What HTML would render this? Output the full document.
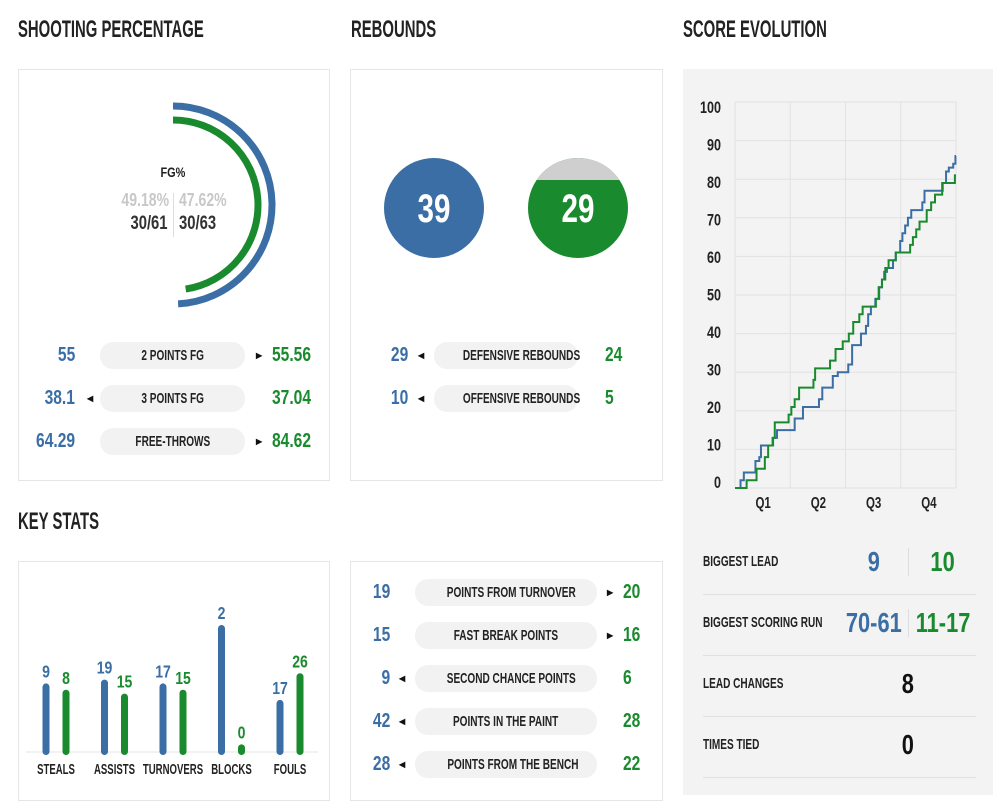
<!DOCTYPE html>
<html><head><meta charset="utf-8">
<style>
*{box-sizing:border-box;margin:0;padding:0}
body{width:993px;height:795px;background:#fff;position:relative;overflow:hidden;font-family:"Liberation Sans",Arial,sans-serif;font-weight:bold;color:#222}
.abs{position:absolute;white-space:nowrap}
.c{display:inline-block;transform:scaleX(0.78)}
.cp{display:inline-block;transform:scaleX(0.67)}
.cl{display:inline-block;transform:scaleX(0.78);transform-origin:left}
.cs{display:inline-block;transform:scaleX(0.67);transform-origin:left}
.ct{display:inline-block;transform:scaleX(0.62);transform-origin:left}
.cr{display:inline-block;transform:scaleX(0.78);transform-origin:right}
.title{position:absolute;font-size:24px;color:#222;white-space:nowrap}
.panel{position:absolute;border:1px solid #e6e6e6;background:#fff}
.pill{position:absolute;background:#f2f2f2;border-radius:13px;height:27px;font-size:15px;line-height:27px;text-align:center;color:#222;white-space:nowrap}
.num{position:absolute;font-size:20px;line-height:27px;white-space:nowrap}
.b{color:#3a6ea5}.g{color:#1a8a2e}
.arr{position:absolute;font-size:8px;line-height:27px;color:#111}
</style></head><body>
<div class="title" style="left:18px;top:16px"><span class="ct">SHOOTING PERCENTAGE</span></div>
<div class="title" style="left:351px;top:16px"><span class="ct">REBOUNDS</span></div>
<div class="title" style="left:683px;top:16px"><span class="ct">SCORE EVOLUTION</span></div>
<div class="title" style="left:18px;top:508px"><span class="ct">KEY STATS</span></div>

<div class="panel" style="left:18px;top:69px;width:312px;height:412px"></div>
<div class="panel" style="left:350px;top:69px;width:313px;height:412px"></div>
<div class="panel" style="left:18px;top:561px;width:312px;height:240px"></div>
<div class="panel" style="left:350px;top:561px;width:313px;height:240px"></div>
<div class="abs" style="left:683px;top:69px;width:310px;height:726px;background:#f3f3f3"></div>

<svg class="abs" style="left:0;top:0" width="993" height="795" id="arcs"></svg>
<div class="abs" style="left:143px;top:164px;width:60px;text-align:center;font-size:14px"><span class="c">FG%</span></div>
<div class="abs" style="left:100px;top:190px;width:69px;text-align:right;font-size:18px;color:#c8c8c8"><span class="cr">49.18%</span></div>
<div class="abs" style="left:179px;top:190px;font-size:18px;color:#c8c8c8"><span class="cl">47.62%</span></div>
<div class="abs" style="left:100px;top:213px;width:68px;text-align:right;font-size:19px;color:#333"><span class="cr">30/61</span></div>
<div class="abs" style="left:179px;top:213px;font-size:19px;color:#333"><span class="cl">30/63</span></div>
<div class="abs" style="left:173px;top:193px;width:1px;height:44px;background:#ddd"></div>

<div id="rows"></div>

<svg class="abs" style="left:0;top:0" width="993" height="795" id="reb">
<circle cx="434" cy="208" r="50" fill="#3a6ea5"/>
<clipPath id="cc"><circle cx="578" cy="208" r="50"/></clipPath>
<rect x="528" y="158" width="100" height="100" fill="#1a8a2e" clip-path="url(#cc)"/>
<rect x="528" y="158" width="100" height="22" fill="#cfcfcf" clip-path="url(#cc)"/>
<text transform="translate(434,222) scale(0.74,1)" text-anchor="middle" font-size="40" fill="#fff" font-family="Liberation Sans,sans-serif" font-weight="bold">39</text>
<text transform="translate(578,222) scale(0.74,1)" text-anchor="middle" font-size="40" fill="#fff" font-family="Liberation Sans,sans-serif" font-weight="bold">29</text>
</svg>

<svg class="abs" style="left:0;top:0" width="993" height="795" id="keys"></svg>
<svg class="abs" style="left:0;top:0" width="993" height="795" id="score"></svg>

<div id="sstats"></div>

<script>
// ---- shooting arcs ----
const fgPct=[49.18,47.62];
const NS="http://www.w3.org/2000/svg";
function mk(p,tag,attrs){const e=document.createElementNS(NS,tag);for(const k in attrs)e.setAttribute(k,attrs[k]);p.appendChild(e);return e;}
function txt(p,x,y,str,size,col,anchor,sx){const t=mk(p,'text',{transform:`translate(${x},${y}) scale(${sx||0.78},1)`,'text-anchor':anchor||'middle','font-size':size,fill:col,'font-weight':'bold','font-family':'Liberation Sans,sans-serif'});t.textContent=str;return t;}
(function(){
 const s=document.getElementById('arcs');
 const cx=173,cy=205,radii=[99,85],cols=['#3a6ea5','#1a8a2e'];
 fgPct.forEach((p,i)=>{
  const a=p/100*2*Math.PI,r=radii[i];
  const x2=cx+r*Math.sin(a),y2=cy-r*Math.cos(a);
  const el=mk(s,'path',{d:`M${cx} ${cy-r} A${r} ${r} 0 0 1 ${x2} ${y2}`,fill:'none',stroke:cols[i],'stroke-width':7});
  
  
 });
})();

// ---- comparison rows ----
const rowLabels=["2 POINTS FG","3 POINTS FG","FREE-THROWS","DEFENSIVE REBOUNDS","OFFENSIVE REBOUNDS","POINTS FROM TURNOVER","FAST BREAK POINTS","SECOND CHANCE POINTS","POINTS IN THE PAINT","POINTS FROM THE BENCH"];
const rowHome=["55","38.1","64.29","29","10","19","15","9","42","28"];
const rowAway=["55.56","37.04","84.62","24","5","20","16","6","28","22"];
const rowArrow=["r","l","r","l","l","r","r","l","l","l"];
(function(){
 const layouts=[];
 [342,385,428].forEach(y=>layouts.push({y,px:100,pw:145,hx:75,ax:272,al:87,ar:256}));
 [342,385].forEach(y=>layouts.push({y,px:434,pw:144,hx:408,ax:605,al:418,ar:590}));
 [579,622,665,708,751].forEach(y=>layouts.push({y,px:415,pw:182,hx:390,ax:623,al:399,ar:607}));
 const c=document.getElementById('rows');let h='';
 rowLabels.forEach((l,i)=>{const L=layouts[i];
  h+=`<div class="pill" style="left:${L.px}px;top:${L.y}px;width:${L.pw}px"><span class="cp">${l}</span></div>`;
  h+=`<div class="num b" style="left:${L.hx-80}px;top:${L.y}px;width:80px;text-align:right"><span class="cr">${rowHome[i]}</span></div>`;
  h+=`<div class="num g" style="left:${L.ax}px;top:${L.y}px"><span class="cl">${rowAway[i]}</span></div>`;
  h+= rowArrow[i]=='l'?`<div class="arr" style="left:${L.al}px;top:${L.y}px">◀</div>`:`<div class="arr" style="left:${L.ar}px;top:${L.y}px">▶</div>`;
 });
 c.innerHTML=h;
})();

// ---- key stats ----
const keyCats=["STEALS","ASSISTS","TURNOVERS","BLOCKS","FOULS"];
const keyHome=[9,19,17,2,17];
const keyAway=[8,15,15,0,26];
const keyHomeHeight=[54,57,54,100,41]; // relative bar height (% of max)
const keyAwayHeight=[49,46,49,6,62];
(function(){
 const s=document.getElementById('keys');
 const base=752,maxH=127,x0=46,step=58.5;
 mk(s,'line',{x1:26,y1:base,x2:318,y2:base,stroke:'#e4e4e4'});
 keyCats.forEach((c,i)=>{
  const xb=x0+i*step,xg=xb+20;
  [[xb,keyHomeHeight[i],keyHome[i],'#3a6ea5','home'],[xg,keyAwayHeight[i],keyAway[i],'#1a8a2e','away']].forEach(([x,hp,v,col,t])=>{
   const h=hp/100*maxH;
   const b=mk(s,'rect',{x:x-3.5,y:base-h,width:7,height:h+3,rx:3.5,fill:col});
   
   
   txt(s,x,base-h-6,v,18,col);
  });
  const lt=txt(s,xb+10,774,c,15,'#222','middle',0.64);
  
  
 });
})();

// ---- score evolution ----
const yTicks=[0,10,20,30,40,50,60,70,80,90,100];
const quarters=["Q1","Q2","Q3","Q4"];
const homeT=[0,1.0,1.6,3.7,4.4,4.7,6.9,7.6,10.8,12.3,15.2,15.8,17.7,18.6,20.5,21.2,22.8,23.7,24.1,24.6,25.4,26.1,26.6,27.0,27.5,28.6,29.1,29.9,30.3,30.8,31.3,31.9,33.9,34.3,37.6,38.2,38.7,39.5,39.9];
const homeS=[0,2,4,7,8,11,13,15,18,21,23,26,29,30,32,37,40,42,45,47,49,52,54,56,57,59,61,64,66,68,70,72,74,77,79,82,83,84,86];
const awayT=[0,2.1,3.9,5.4,6.0,6.8,7.2,9.7,10.2,10.8,11.6,14.2,14.5,17.2,18.2,19.5,20.6,21.4,22.5,23.1,25.5,26.0,26.6,27.2,27.8,29.1,31.7,32.2,32.8,33.4,34.7,35.5,36.2,37.5,39.8];
const awayS=[0,2,5,8,11,13,17,19,21,23,26,28,31,33,36,38,40,43,45,47,49,52,54,57,59,61,63,65,67,69,72,74,76,79,81];
(function(){
 const s=document.getElementById('score');
 const L=735,R=956,T=102,B=488;
 const X=t=>L+(R-L)*t/40, Y=v=>B-(B-T)*v/100;
 mk(s,'rect',{x:L,y:T,width:R-L,height:B-T,fill:'none',stroke:'#e2e2e2'});
 yTicks.forEach(v=>{
  mk(s,'line',{x1:L,y1:Y(v),x2:R,y2:Y(v),stroke:'#e2e2e2'});
  const t=txt(s,721,488-v*3.75,v,17,'#222','end',0.74);
  
  
 });
 quarters.forEach((q,i)=>{
  if(i>0)mk(s,'line',{x1:X(i*10),y1:T,x2:X(i*10),y2:B,stroke:'#e2e2e2'});
  const t=txt(s,X(i*10+5)+0.5,508,q,16,'#222','middle',0.72);
  
  
 });
 function step(T_,S_,col,name){
  let d=`M${X(T_[0])} ${Y(S_[0])}`;
  for(let i=1;i<T_.length;i++){d+=` H${X(T_[i])} V${Y(S_[i])}`;}
  d+=` H${X(40)}`;
  const p=mk(s,'path',{d,fill:'none',stroke:col,'stroke-width':2});
  
  
 }
 step(homeT,homeS,'#3a6ea5','home-score-line');
 step(awayT,awayS,'#1a8a2e','away-score-line');
})();

// ---- score stats ----
const sLabels=["BIGGEST LEAD","BIGGEST SCORING RUN","LEAD CHANGES","TIMES TIED"];
const sHome=["9","70-61","8","0"];
const sAway=["10","11-17","",""];
(function(){
 let h='';
 sLabels.forEach((l,i)=>{const y=548+i*61;
  h+=`<div class="abs" style="left:703px;top:${y}px;font-size:15px;line-height:28px"><span class="cs">${l}</span></div>`;
  if(sAway[i]){
   h+=`<div class="abs b" style="left:834px;top:${y-2}px;width:80px;text-align:center;font-size:28px;line-height:32px"><span class="c">${sHome[i]}</span></div>`;
   h+=`<div class="abs" style="left:908px;top:${y}px;width:1px;height:28px;background:#ddd"></div>`;
   h+=`<div class="abs g" style="left:905px;top:${y-2}px;width:76px;text-align:center;font-size:28px;line-height:32px"><span class="c">${sAway[i]}</span></div>`;
  } else {
   h+=`<div class="abs" style="left:878px;top:${y-2}px;width:60px;text-align:center;font-size:28px;line-height:32px;color:#111"><span class="c">${sHome[i]}</span></div>`;
  }
  h+=`<div class="abs" style="left:703px;top:${y+46}px;width:273px;height:1px;background:#e0e0e0"></div>`;
 });
 document.getElementById('sstats').innerHTML=h;
})();
</script>
</body></html>
